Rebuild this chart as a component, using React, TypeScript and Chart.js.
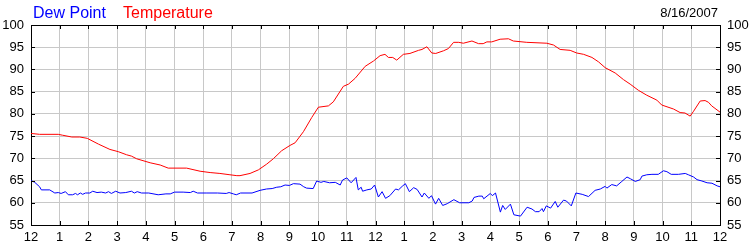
import React, { useEffect, useRef } from "react";
import { Chart, registerables } from "chart.js";

Chart.register(...registerables);

// Hours since midnight (0..24) and readings
const dewHours = [
  0, 0.13, 0.3, 0.36, 0.65, 0.83, 0.95, 1.05, 1.2, 1.3, 1.45, 1.55, 1.62, 1.72, 1.8, 1.9,
  2.05, 2.15, 2.3, 2.45, 2.6, 2.7, 2.8, 2.95, 3.1, 3.3, 3.5, 3.6, 3.7, 3.85, 4.1, 4.43,
  4.7, 4.85, 5.0, 5.3, 5.55, 5.65, 5.8, 6.1, 6.5, 6.8, 6.9, 7.05, 7.15, 7.3, 7.7, 7.98,
  8.2, 8.4, 8.56, 8.7, 8.85, 9.0, 9.14, 9.37, 9.5, 9.6, 9.83, 9.95, 10.1, 10.2, 10.4,
  10.6, 10.77, 10.85, 11.0, 11.15, 11.32, 11.4, 11.5, 11.55, 11.7, 11.85, 11.97, 12.1,
  12.23, 12.35, 12.5, 12.7, 12.8, 12.93, 13.04, 13.18, 13.33, 13.45, 13.62, 13.7, 13.86,
  13.95, 14.09, 14.2, 14.34, 14.5, 14.73, 14.93, 15.25, 15.37, 15.43, 15.6, 15.72, 15.77,
  16.0, 16.07, 16.18, 16.35, 16.43, 16.52, 16.7, 16.82, 17.05, 17.28, 17.45, 17.57, 17.7,
  17.8, 17.85, 17.95, 18.1, 18.26, 18.35, 18.55, 18.65, 18.82, 18.98, 19.2, 19.42, 19.65,
  19.83, 20.0, 20.06, 20.23, 20.4, 20.58, 20.76, 20.88, 21.05, 21.22, 21.28, 21.45, 21.63,
  21.85, 22.03, 22.15, 22.3, 22.55, 22.79, 22.9, 23.08, 23.2, 23.37, 23.55, 23.72, 23.9, 24.0,
];
const dewValues = [
  65.0, 64.6, 63.6, 62.9, 62.9, 62.2, 62.3, 62.1, 62.5, 61.8, 61.8, 62.1, 61.8, 62.2, 61.9, 62.2,
  62.2, 62.6, 62.3, 62.4, 62.2, 62.5, 62.1, 62.6, 62.2, 62.3, 62.6, 62.2, 62.5, 62.2, 62.2, 61.8,
  62.0, 62.0, 62.4, 62.4, 62.3, 62.6, 62.2, 62.2, 62.2, 62.1, 62.3, 62.0, 61.8, 62.2, 62.2, 62.8,
  63.1, 63.2, 63.5, 63.6, 64.0, 63.9, 64.3, 64.2, 63.6, 63.3, 63.2, 64.9, 64.6, 64.8, 64.5,
  64.6, 64.0, 65.1, 65.6, 64.5, 65.7, 62.9, 63.5, 62.6, 62.9, 63.1, 64.0, 61.3,
  62.5, 61.0, 61.6, 63.1, 62.9, 63.7, 64.3, 62.5, 63.4, 63.0, 61.3, 62.2, 61.0,
  61.6, 59.7, 61.0, 59.4, 59.8, 60.7, 60.0, 60.0, 60.4, 61.2, 61.5, 61.5, 60.9,
  62.1, 61.6, 62.2, 57.9, 59.4, 58.5, 59.7, 57.3, 57.0, 59.0, 58.6, 58.0, 58.0,
  58.7, 58.0, 59.3, 58.8, 60.3, 59.0, 60.6, 60.4, 59.3, 62.2, 61.9, 61.4, 62.8,
  63.1, 63.7, 63.3, 64.1, 63.8, 64.8, 65.8, 65.4, 64.8, 65.2, 66.0, 66.3, 66.4,
  66.4, 67.2, 67.0, 66.4, 66.4, 66.6, 66.3, 65.8, 65.2, 64.9, 64.5, 64.4, 63.8, 63.6,
];

const tempHours = [
  0, 0.3, 0.95, 1.1, 1.42, 1.7, 1.96, 2.35, 2.75, 3.04, 3.33, 3.5, 3.68, 4.15, 4.5, 4.78,
  5.42, 5.89, 6.24, 6.58, 6.93, 7.17, 7.28, 7.63, 7.92, 8.21, 8.44, 8.73, 9.02, 9.2, 9.49,
  9.78, 10.01, 10.36, 10.53, 10.88, 11.06, 11.29, 11.64, 11.93, 12.16, 12.33, 12.45, 12.6,
  12.74, 12.97, 13.2, 13.5, 13.62, 13.79, 13.96, 14.1, 14.37, 14.54, 14.72, 14.9, 15.06,
  15.36, 15.59, 15.75, 15.88, 16.05, 16.34, 16.63, 16.8, 17.27, 17.97, 18.2, 18.43, 18.78,
  19.01, 19.25, 19.54, 19.77, 20.0, 20.35, 20.64, 20.87, 21.16, 21.45, 21.8, 21.97, 22.38,
  22.61, 22.78, 22.96, 23.08, 23.31, 23.48, 23.6, 23.71, 24.0,
];
const tempValues = [
  75.6, 75.4, 75.4, 75.2, 74.8, 74.8, 74.5, 73.2, 72.0, 71.5, 70.8, 70.5, 69.9, 69.0, 68.5, 67.8,
  67.8, 67.1, 66.8, 66.6, 66.3, 66.1, 66.1, 66.6, 67.4, 68.7, 69.9, 71.7, 72.9, 73.5, 76.0,
  79.2, 81.5, 81.8, 82.7, 86.2, 86.7, 88.0, 90.7, 91.9, 93.1, 93.4, 92.7, 92.7,
  92.1, 93.4, 93.6, 94.3, 94.5, 95.1, 93.7, 93.6, 94.2, 94.7, 96.1, 96.1, 95.9,
  96.4, 95.8, 95.8, 96.2, 96.2, 96.8, 96.9, 96.4, 96.1, 95.9, 95.5, 94.5, 94.3,
  93.7, 93.4, 92.7, 91.7, 90.4, 89.2, 87.7, 86.7, 85.3, 84.2, 83.1, 82.0, 81.1,
  80.3, 80.2, 79.5, 80.6, 82.9, 83.0, 82.6, 81.8, 80.4,
];

const hourLabels = ["12", "1", "2", "3", "4", "5", "6", "7", "8", "9", "10", "11",
  "12", "1", "2", "3", "4", "5", "6", "7", "8", "9", "10", "11", "12"];
const seriesNames = ["Dew Point", "Temperature"];
const seriesColors = ["#0000ff", "#ff0000"];
const dateLabel = "8/16/2007";
const yMin = 55;
const yMax = 100;
const yStep = 5;

const FONT = "Arial, 'Liberation Sans', sans-serif";

const framePlugin = {
  id: "frame",
  afterDraw(chart: any) {
    const { ctx, chartArea } = chart;
    const { left, right, top, bottom } = chartArea;
    const xs = chart.scales.x;
    const ys = chart.scales.y;
    ctx.save();
    ctx.strokeStyle = "#000";
    ctx.lineWidth = 1;
    ctx.beginPath();
    const t = Math.round(top) + 0.5;
    ctx.moveTo(Math.round(left), t);
    ctx.lineTo(Math.round(right) + 1, t);
    for (let h = 1; h < 24; h++) {
      const px = Math.round(xs.getPixelForValue(h)) + 0.5;
      ctx.moveTo(px, Math.round(bottom));
      ctx.lineTo(px, Math.round(bottom) - 4);
      ctx.moveTo(px, Math.round(top));
      ctx.lineTo(px, Math.round(top) + 4);
    }
    for (let v = yMin + yStep; v < yMax; v += yStep) {
      const py = Math.round(ys.getPixelForValue(v)) + 0.5;
      ctx.moveTo(Math.round(left), py);
      ctx.lineTo(Math.round(left) + 4, py);
      ctx.moveTo(Math.round(right), py);
      ctx.lineTo(Math.round(right) - 4, py);
    }
    ctx.stroke();

    ctx.textBaseline = "alphabetic";
    ctx.font = `16px ${FONT}`;
    ctx.textAlign = "left";
    ctx.fillStyle = seriesColors[0];
    ctx.fillText(seriesNames[0], 33, 18);
    ctx.fillStyle = seriesColors[1];
    ctx.fillText(seriesNames[1], 123, 18);
    ctx.font = `13px ${FONT}`;
    ctx.fillStyle = "#000";
    ctx.textAlign = "right";
    ctx.fillText(dateLabel, 718, 17);
    ctx.restore();
  },
};

export default function App() {
  const ref = useRef<HTMLCanvasElement>(null);
  useEffect(() => {
    document.body.style.margin = "0";
    const tickFont = { family: FONT, size: 13 };
    const yAxisCommon = {
      type: "linear" as const,
      min: yMin,
      max: yMax,
      ticks: { stepSize: yStep, color: "#000", font: tickFont, padding: 7 },
      border: { display: true, color: "#000", width: 1 },
    };
    const chart = new Chart(ref.current!, {
      type: "line",
      data: {
        datasets: [
          {
            label: seriesNames[1],
            data: tempHours.map((h, i) => ({ x: h, y: tempValues[i] })),
            borderColor: seriesColors[1],
            borderWidth: 1,
            pointRadius: 0,
            tension: 0,
            yAxisID: "y",
          },
          {
            label: seriesNames[0],
            data: dewHours.map((h, i) => ({ x: h, y: dewValues[i] })),
            borderColor: seriesColors[0],
            borderWidth: 1,
            pointRadius: 0,
            tension: 0,
            yAxisID: "y",
          },
        ],
      },
      options: {
        animation: false,
        responsive: false,
        devicePixelRatio: 1,
        layout: { padding: { top: 25, left: 0, right: 0, bottom: 0 } },
        plugins: { legend: { display: false }, tooltip: { enabled: false } },
        scales: {
          x: {
            type: "linear",
            min: 0,
            max: 24,
            ticks: {
              stepSize: 1,
              autoSkip: false,
              maxRotation: 0,
              color: "#000",
              font: tickFont,
              padding: 5,
              callback: (v: any) => hourLabels[Math.round(Number(v))] ?? "",
            },
            grid: { color: "#c8c8c8", drawTicks: false },
            border: { display: true, color: "#000", width: 1 },
            afterFit: (s: any) => { s.height = 25; },
          },
          y: {
            ...yAxisCommon,
            position: "left",
            grid: { color: "#c8c8c8", drawTicks: false },
            afterFit: (s: any) => { s.width = 31; },
          },
          y2: {
            ...yAxisCommon,
            position: "right",
            grid: { display: false, drawTicks: false },
            afterFit: (s: any) => { s.width = 30; },
          },
        },
      },
      plugins: [framePlugin],
    });
    return () => chart.destroy();
  }, []);
  return (
    <div style={{ width: 750, height: 250, background: "#fff" }}>
      <canvas ref={ref} width={750} height={250} />
    </div>
  );
}
